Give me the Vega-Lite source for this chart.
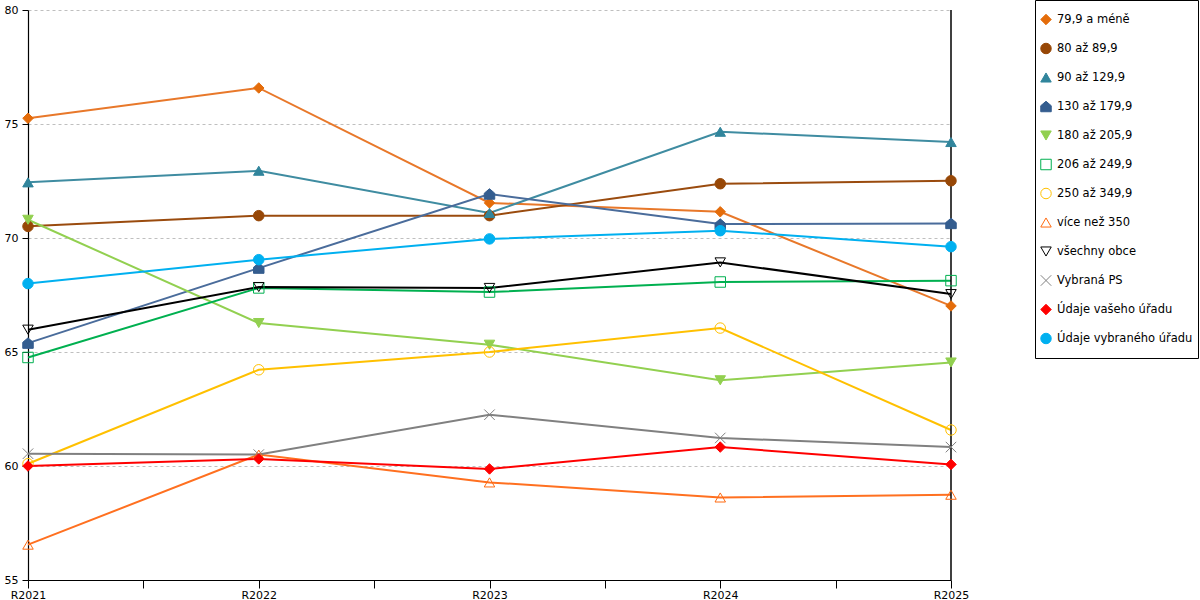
{
  "$schema": "https://vega.github.io/schema/vega-lite/v6.json",
  "autosize": "none",
  "padding": {"left": 28, "top": 10, "right": 249, "bottom": 20},
  "width": 923,
  "height": 570,
  "background": "white",
  "data": {
    "values": [
      {"serie": "79,9 a méně", "rok": 2021, "hodnota": 75.25},
      {"serie": "79,9 a méně", "rok": 2022, "hodnota": 76.58},
      {"serie": "79,9 a méně", "rok": 2023, "hodnota": 71.54},
      {"serie": "79,9 a méně", "rok": 2024, "hodnota": 71.15},
      {"serie": "79,9 a méně", "rok": 2025, "hodnota": 67.02},
      {"serie": "80 až 89,9", "rok": 2021, "hodnota": 70.51},
      {"serie": "80 až 89,9", "rok": 2022, "hodnota": 70.98},
      {"serie": "80 až 89,9", "rok": 2023, "hodnota": 70.98},
      {"serie": "80 až 89,9", "rok": 2024, "hodnota": 72.38},
      {"serie": "80 až 89,9", "rok": 2025, "hodnota": 72.51},
      {"serie": "90 až 129,9", "rok": 2021, "hodnota": 72.44},
      {"serie": "90 až 129,9", "rok": 2022, "hodnota": 72.95},
      {"serie": "90 až 129,9", "rok": 2023, "hodnota": 71.1},
      {"serie": "90 až 129,9", "rok": 2024, "hodnota": 74.66},
      {"serie": "90 až 129,9", "rok": 2025, "hodnota": 74.21},
      {"serie": "130 až 179,9", "rok": 2021, "hodnota": 65.39},
      {"serie": "130 až 179,9", "rok": 2022, "hodnota": 68.68},
      {"serie": "130 až 179,9", "rok": 2023, "hodnota": 71.93},
      {"serie": "130 až 179,9", "rok": 2024, "hodnota": 70.61},
      {"serie": "130 až 179,9", "rok": 2025, "hodnota": 70.64},
      {"serie": "180 až 205,9", "rok": 2021, "hodnota": 70.8},
      {"serie": "180 až 205,9", "rok": 2022, "hodnota": 66.27},
      {"serie": "180 až 205,9", "rok": 2023, "hodnota": 65.32},
      {"serie": "180 až 205,9", "rok": 2024, "hodnota": 63.76},
      {"serie": "180 až 205,9", "rok": 2025, "hodnota": 64.54},
      {"serie": "206 až 249,9", "rok": 2021, "hodnota": 64.76},
      {"serie": "206 až 249,9", "rok": 2022, "hodnota": 67.81},
      {"serie": "206 až 249,9", "rok": 2023, "hodnota": 67.63},
      {"serie": "206 až 249,9", "rok": 2024, "hodnota": 68.07},
      {"serie": "206 až 249,9", "rok": 2025, "hodnota": 68.13},
      {"serie": "250 až 349,9", "rok": 2021, "hodnota": 60.1},
      {"serie": "250 až 349,9", "rok": 2022, "hodnota": 64.22},
      {"serie": "250 až 349,9", "rok": 2023, "hodnota": 65.0},
      {"serie": "250 až 349,9", "rok": 2024, "hodnota": 66.05},
      {"serie": "250 až 349,9", "rok": 2025, "hodnota": 61.58},
      {"serie": "více než 350", "rok": 2021, "hodnota": 56.55},
      {"serie": "více než 350", "rok": 2022, "hodnota": 60.5},
      {"serie": "více než 350", "rok": 2023, "hodnota": 59.28},
      {"serie": "více než 350", "rok": 2024, "hodnota": 58.62},
      {"serie": "více než 350", "rok": 2025, "hodnota": 58.74},
      {"serie": "všechny obce", "rok": 2021, "hodnota": 65.98},
      {"serie": "všechny obce", "rok": 2022, "hodnota": 67.85},
      {"serie": "všechny obce", "rok": 2023, "hodnota": 67.81},
      {"serie": "všechny obce", "rok": 2024, "hodnota": 68.93},
      {"serie": "všechny obce", "rok": 2025, "hodnota": 67.54},
      {"serie": "Vybraná PS", "rok": 2021, "hodnota": 60.54},
      {"serie": "Vybraná PS", "rok": 2022, "hodnota": 60.5},
      {"serie": "Vybraná PS", "rok": 2023, "hodnota": 62.25},
      {"serie": "Vybraná PS", "rok": 2024, "hodnota": 61.23},
      {"serie": "Vybraná PS", "rok": 2025, "hodnota": 60.83},
      {"serie": "Údaje vašeho úřadu", "rok": 2021, "hodnota": 60.0},
      {"serie": "Údaje vašeho úřadu", "rok": 2022, "hodnota": 60.31},
      {"serie": "Údaje vašeho úřadu", "rok": 2023, "hodnota": 59.87},
      {"serie": "Údaje vašeho úřadu", "rok": 2024, "hodnota": 60.83},
      {"serie": "Údaje vašeho úřadu", "rok": 2025, "hodnota": 60.07},
      {"serie": "Údaje vybraného úřadu", "rok": 2021, "hodnota": 68.0},
      {"serie": "Údaje vybraného úřadu", "rok": 2022, "hodnota": 69.05},
      {"serie": "Údaje vybraného úřadu", "rok": 2023, "hodnota": 69.96},
      {"serie": "Údaje vybraného úřadu", "rok": 2024, "hodnota": 70.32},
      {"serie": "Údaje vybraného úřadu", "rok": 2025, "hodnota": 69.62}
    ]
  },
  "layer": [
    {
      "mark": {"type": "line", "strokeWidth": 2},
      "encoding": {
        "x": {
          "field": "rok",
          "type": "quantitative",
          "title": null,
          "scale": {"domain": [2021, 2025], "nice": false, "zero": false},
          "axis": {
            "values": [2021, 2021.5, 2022, 2022.5, 2023, 2023.5, 2024, 2024.5, 2025],
            "labelExpr": "datum.value % 1 === 0 ? 'R' + datum.value : ''",
            "labelFlush": false,
            "labelOverlap": false,
            "grid": false,
            "tickSize": 8,
            "labelPadding": 1
          }
        },
        "y": {
          "field": "hodnota",
          "type": "quantitative",
          "title": null,
          "scale": {"domain": [55, 80], "nice": false, "zero": false},
          "axis": {
            "values": [55, 60, 65, 70, 75, 80],
            "grid": true,
            "gridColor": "#bfbfbf",
            "gridDash": [3, 3],
            "gridWidth": 1,
            "tickSize": 6,
            "labelPadding": 4
          }
        },
        "color": {
          "field": "serie",
          "type": "nominal",
          "legend": null,
          "scale": {
            "domain": ["Údaje vybraného úřadu", "Údaje vašeho úřadu", "Vybraná PS", "všechny obce", "více než 350", "250 až 349,9", "206 až 249,9", "180 až 205,9", "130 až 179,9", "90 až 129,9", "80 až 89,9", "79,9 a méně"],
            "range": ["#00b0f0", "#ff0000", "#808080", "#000000", "#ff7020", "#ffc000", "#00b050", "#92d050", "#4a6c9b", "#3f8ca1", "#9a4b0e", "#e8782a"]
          }
        },
        "order": {"field": "rok"}
      }
    },
    {
      "data": {"values": [{"rok": 2025}]},
      "mark": {"type": "rule", "color": "black", "strokeWidth": 1.5},
      "encoding": {"x": {"field": "rok", "type": "quantitative"}}
    },
    {
      "mark": {"type": "point", "opacity": 1, "strokeWidth": 1, "size": 110},
      "encoding": {
        "x": {"field": "rok", "type": "quantitative"},
        "y": {"field": "hodnota", "type": "quantitative"},
        "stroke": {
          "field": "serie",
          "type": "nominal",
          "scale": {
            "domain": ["79,9 a méně", "80 až 89,9", "90 až 129,9", "130 až 179,9", "180 až 205,9", "206 až 249,9", "250 až 349,9", "více než 350", "všechny obce", "Vybraná PS", "Údaje vašeho úřadu", "Údaje vybraného úřadu"],
            "range": ["#e46c0a", "#974706", "#31859c", "#345d8f", "#92d050", "#00b050", "#ffc000", "#ff6a10", "#000000", "#808080", "#ff0000", "#00b0f0"]
          },
          "legend": {
            "title": null,
            "orient": "none",
            "legendX": 1007,
            "legendY": -10,
            "strokeColor": "black",
            "fillColor": "white",
            "padding": 5,
            "clipHeight": 29,
            "rowPadding": 0,
            "labelFont": "DejaVu Sans",
            "labelFontSize": 11.5,
            "labelColor": "black",
            "labelOffset": 5,
            "labelLimit": 200,
            "symbolStrokeWidth": 1,
            "symbolSize": 110
          }
        },
        "fill": {
          "field": "serie",
          "type": "nominal",
          "scale": {
            "domain": ["79,9 a méně", "80 až 89,9", "90 až 129,9", "130 až 179,9", "180 až 205,9", "206 až 249,9", "250 až 349,9", "více než 350", "všechny obce", "Vybraná PS", "Údaje vašeho úřadu", "Údaje vybraného úřadu"],
            "range": ["#e46c0a", "#974706", "#31859c", "#345d8f", "#92d050", "transparent", "transparent", "transparent", "transparent", "transparent", "#ff0000", "#00b0f0"]
          }
        },
        "shape": {
          "field": "serie",
          "type": "nominal",
          "scale": {
            "domain": ["79,9 a méně", "80 až 89,9", "90 až 129,9", "130 až 179,9", "180 až 205,9", "206 až 249,9", "250 až 349,9", "více než 350", "všechny obce", "Vybraná PS", "Údaje vašeho úřadu", "Údaje vybraného úřadu"],
            "range": ["diamond", "circle", "triangle-up", "M0,-1L1,-0.15L1,1L-1,1L-1,-0.15Z", "triangle-down", "square", "circle", "triangle-up", "triangle-down", "M-1,-1L1,1M-1,1L1,-1", "diamond", "circle"]
          }
        }
      }
    }
  ],
  "config": {
    "font": "DejaVu Sans",
    "view": {"stroke": null},
    "axis": {
      "domainColor": "black",
      "domainWidth": 1.2,
      "tickColor": "black",
      "tickWidth": 1,
      "labelColor": "black",
      "labelFont": "DejaVu Sans",
      "labelFontSize": 11
    }
  }
}
